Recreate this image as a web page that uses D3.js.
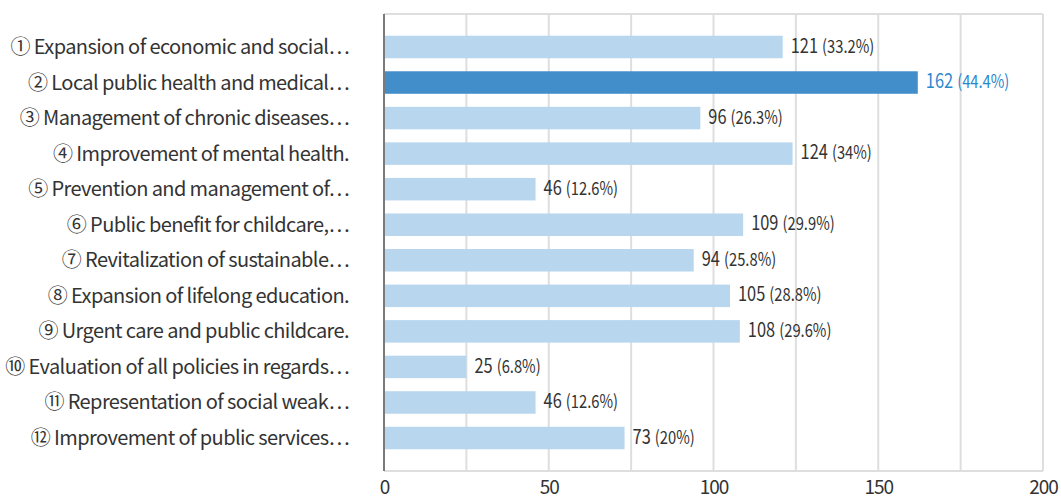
<!DOCTYPE html>
<html><head><meta charset="utf-8">
<script src="https://cdn.jsdelivr.net/npm/d3@7"></script>
<style>body{margin:0;background:#fff}svg{display:block}</style>
</head><body>
<svg id="c" width="1061" height="498"></svg>
<script>
const categories = [
  "① Expansion of economic and social⋯",
  "② Local public health and medical⋯",
  "③ Management of chronic diseases⋯",
  "④ Improvement of mental health.",
  "⑤ Prevention and management of⋯",
  "⑥ Public benefit for childcare,⋯",
  "⑦ Revitalization of sustainable⋯",
  "⑧ Expansion of lifelong education.",
  "⑨ Urgent care and public childcare.",
  "⑩ Evaluation of all policies in regards⋯",
  "⑪ Representation of social weak⋯",
  "⑫ Improvement of public services⋯"
];
const counts = [121, 162, 96, 124, 46, 109, 94, 105, 108, 25, 46, 73];
const percents = ["33.2%", "44.4%", "26.3%", "34%", "12.6%", "29.9%", "25.8%", "28.8%", "29.6%", "6.8%", "12.6%", "20%"];
const highlighted = [false, true, false, false, false, false, false, false, false, false, false, false];
const xTicks = [0, 50, 100, 150, 200];
const gridValues = [0, 25, 50, 75, 100, 125, 150, 175, 200];

const svg = d3.select("#c");
const pLeft = 384, pRight = 1043, pTop = 14, pBottom = 471;
const x = d3.scaleLinear().domain([0, 200]).range([pLeft, pRight]);
const y = d3.scaleBand().domain(categories).range([pTop, pBottom]).paddingInner(0.367).paddingOuter(0.611);

const font = "'Noto Sans CJK KR', 'Noto Sans', sans-serif";

// grid
svg.append("g").selectAll("line").data(gridValues.slice(1)).join("line")
  .attr("x1", d => x(d)).attr("x2", d => x(d)).attr("y1", pTop).attr("y2", pBottom)
  .attr("stroke", "#dedede").attr("stroke-width", 2);
svg.append("line").attr("x1", pLeft).attr("x2", pRight).attr("y1", pTop).attr("y2", pTop)
  .attr("stroke", "#dedede").attr("stroke-width", 2);
svg.append("line").attr("x1", pLeft).attr("x2", pRight).attr("y1", pBottom).attr("y2", pBottom)
  .attr("stroke", "#dedede").attr("stroke-width", 2);

// bars
svg.append("g").selectAll("rect").data(categories).join("rect")
  .attr("x", pLeft).attr("y", d => y(d))
  .attr("width", (d, i) => x(counts[i]) - pLeft)
  .attr("height", y.bandwidth())
  .attr("fill", (d, i) => highlighted[i] ? "#428ecb" : "#b8d6ee");

// axis line
svg.append("line").attr("x1", pLeft).attr("x2", pLeft).attr("y1", pTop).attr("y2", pBottom)
  .attr("stroke", "#7a7a7a").attr("stroke-width", 2);

// x axis labels
const xAxis = d3.axisBottom(x).tickValues(xTicks).tickSize(0).tickPadding(0);
const gx = svg.append("g").attr("transform", `translate(0,${pBottom})`).call(xAxis);
gx.select(".domain").remove();
gx.selectAll("text").attr("dy", null).attr("y", 23)
  .style("font-family", font).style("font-size", "19px").attr("fill", "#333")
  .attr("letter-spacing", "-1px");

// category labels
const yAxis = d3.axisLeft(y).tickSize(0).tickPadding(0);
const gy = svg.append("g").attr("transform", `translate(349,0)`).call(yAxis);
gy.select(".domain").remove();
gy.selectAll("text").attr("x", 0).attr("dy", "0.35em")
  .style("font-family", font).style("font-size", "20px").attr("fill", "#333")
  .attr("letter-spacing", "-0.6px");

// value labels (condensed)
const vg = svg.append("g").selectAll("g").data(categories).join("g")
  .attr("transform", (d, i) => `translate(${x(counts[i]) + 8},${y(d) + y.bandwidth() / 2}) scale(0.82,1)`);
const vl = vg.append("text")
  .attr("dy", "0.35em")
  .style("font-family", font)
  .attr("fill", (d, i) => highlighted[i] ? "#2a88cf" : "#333");
vl.append("tspan").style("font-size", "20px").text((d, i) => counts[i]);
vl.append("tspan").attr("dx", 5).style("font-size", "18px").text((d, i) => "(" + percents[i] + ")");
</script>
</body></html>
